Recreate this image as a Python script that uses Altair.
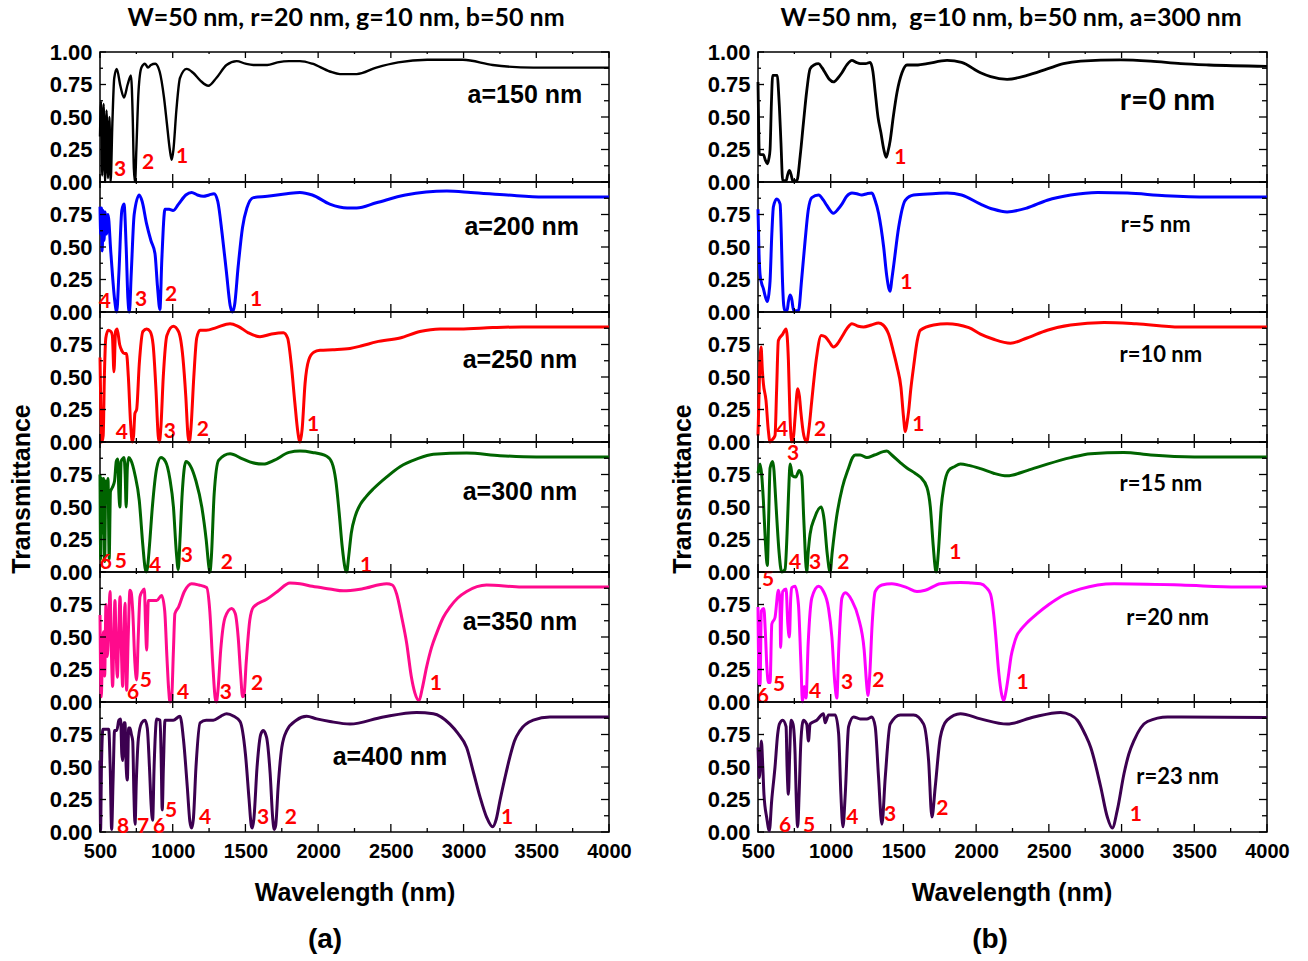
import altair as alt
import pandas as pd

# ---------------- data ----------------
# (a) W=50, r=20, g=10, b=50 ; varying a
a150_wl = [500, 507, 515, 525, 535, 545, 555, 565, 573, 585, 598, 615, 640, 665, 690, 713, 725, 733, 741, 750, 765, 785, 809, 830, 850, 880, 910, 940, 960, 980, 993, 1005, 1025, 1050, 1096, 1140, 1190, 1245, 1300, 1370, 1440, 1500, 1555, 1650, 1720, 1800, 1875, 1960, 2080, 2150, 2265, 2400, 2550, 2750, 2995, 3200, 3480, 3700, 4000]
a150_t = [0.35, 0.62, 0.05, 0.6, 0.0, 0.55, 0.03, 0.5, 0.0, 0.45, 0.8, 0.87, 0.74, 0.65, 0.75, 0.82, 0.5, 0.1, 0.0, 0.25, 0.7, 0.88, 0.91, 0.88, 0.9, 0.91, 0.85, 0.65, 0.45, 0.25, 0.17, 0.25, 0.55, 0.8, 0.87, 0.84, 0.78, 0.74, 0.8, 0.9, 0.93, 0.91, 0.9, 0.9, 0.92, 0.93, 0.93, 0.91, 0.85, 0.83, 0.83, 0.88, 0.92, 0.94, 0.94, 0.9, 0.88, 0.88, 0.88]

a200_wl = [500, 505, 510, 515, 522, 528, 535, 545, 555, 575, 600, 615, 630, 650, 665, 680, 692, 702, 715, 735, 770, 790, 820, 850, 878, 895, 912, 925, 947, 975, 1002, 1040, 1090, 1130, 1170, 1210, 1250, 1284, 1310, 1340, 1370, 1395, 1410, 1425, 1450, 1480, 1510, 1555, 1650, 1784, 1875, 1960, 2080, 2200, 2265, 2400, 2600, 2885, 3050, 3300, 3550, 4000]
a200_t = [0.81, 0.6, 0.8, 0.47, 0.78, 0.55, 0.77, 0.6, 0.75, 0.45, 0.1, 0.0, 0.3, 0.78, 0.83, 0.5, 0.1, 0.0, 0.3, 0.75, 0.9, 0.85, 0.68, 0.55, 0.45, 0.2, 0.02, 0.4, 0.79, 0.79, 0.78, 0.83, 0.9, 0.92, 0.9, 0.89, 0.9, 0.91, 0.85, 0.6, 0.3, 0.05, 0.0, 0.05, 0.35, 0.65, 0.8, 0.88, 0.89, 0.91, 0.92, 0.9, 0.83, 0.8, 0.8, 0.84, 0.9, 0.93, 0.92, 0.9, 0.885, 0.885]

a250_wl = [500, 505, 512, 522, 530, 540, 557, 575, 585, 596, 607, 618, 635, 651, 668, 682, 695, 710, 722, 731, 740, 752, 770, 795, 821, 845, 865, 885, 900, 908, 918, 935, 960, 1004, 1040, 1070, 1090, 1105, 1114, 1125, 1145, 1165, 1188, 1230, 1300, 1394, 1450, 1520, 1600, 1680, 1761, 1790, 1815, 1840, 1860, 1875, 1890, 1910, 1935, 1970, 2013, 2100, 2219, 2300, 2400, 2563, 2700, 2838, 2975, 3200, 3400, 4000]
a250_t = [0.65, 0.3, 0.0, 0.05, 0.5, 0.8, 0.86, 0.85, 0.82, 0.54, 0.85, 0.87, 0.75, 0.7, 0.68, 0.68, 0.5, 0.15, 0.0, 0.05, 0.22, 0.25, 0.6, 0.85, 0.87, 0.85, 0.75, 0.4, 0.05, 0.0, 0.1, 0.5, 0.82, 0.89, 0.85, 0.65, 0.35, 0.05, 0.0, 0.1, 0.5, 0.8, 0.86, 0.86, 0.88, 0.91, 0.89, 0.84, 0.81, 0.83, 0.84, 0.8, 0.6, 0.3, 0.08, 0.0, 0.1, 0.45, 0.63, 0.69, 0.705, 0.71, 0.72, 0.74, 0.77, 0.8, 0.85, 0.87, 0.87, 0.88, 0.885, 0.885]

a300_wl = [500, 505, 512, 518, 525, 532, 540, 548, 555, 563, 572, 585, 600, 612, 622, 630, 637, 645, 655, 665, 673, 680, 688, 697, 712, 740, 770, 795, 810, 818, 826, 840, 860, 890, 919, 950, 980, 1005, 1025, 1038, 1050, 1065, 1091, 1120, 1160, 1200, 1230, 1250, 1256, 1265, 1285, 1316, 1394, 1480, 1550, 1623, 1700, 1800, 1875, 1960, 2059, 2095, 2122, 2145, 2165, 2185, 2196, 2210, 2228, 2255, 2290, 2330, 2380, 2470, 2563, 2680, 2792, 3021, 3250, 3500, 4000]
a300_t = [0.75, 0.1, 0.72, 0.3, 0.72, 0.08, 0.7, 0.6, 0.72, 0.1, 0.62, 0.65, 0.7, 0.85, 0.87, 0.6, 0.5, 0.85, 0.87, 0.88, 0.75, 0.5, 0.8, 0.88, 0.86, 0.75, 0.55, 0.2, 0.03, 0.0, 0.03, 0.2, 0.5, 0.8, 0.88, 0.85, 0.72, 0.5, 0.15, 0.02, 0.25, 0.6, 0.85, 0.82, 0.7, 0.5, 0.25, 0.03, 0.0, 0.1, 0.6, 0.86, 0.91, 0.87, 0.84, 0.83, 0.86, 0.92, 0.93, 0.92, 0.89, 0.84, 0.7, 0.45, 0.2, 0.03, 0.0, 0.12, 0.3, 0.43, 0.52, 0.58, 0.64, 0.73, 0.81, 0.87, 0.905, 0.915, 0.895, 0.885, 0.885]

a350_wl = [500, 504, 509, 515, 523, 532, 541, 550, 560, 569, 578, 587, 595, 603, 611, 619, 628, 638, 647, 656, 664, 672, 678, 683, 694, 706, 715, 725, 740, 752, 763, 775, 790, 805, 813, 821, 827, 832, 860, 890, 924, 945, 960, 972, 981, 992, 1005, 1015, 1040, 1080, 1130, 1180, 1233, 1255, 1275, 1292, 1300, 1312, 1330, 1360, 1405, 1430, 1450, 1468, 1480, 1490, 1505, 1530, 1555, 1646, 1720, 1806, 1875, 1960, 2080, 2173, 2300, 2471, 2510, 2540, 2575, 2609, 2640, 2665, 2694, 2715, 2746, 2780, 2815, 2860, 2906, 2960, 3021, 3158, 3400, 4000]
a350_t = [0.67, 0.2, 0.04, 0.3, 0.54, 0.2, 0.75, 0.35, 0.6, 0.85, 0.4, 0.12, 0.5, 0.78, 0.4, 0.19, 0.5, 0.81, 0.4, 0.12, 0.5, 0.76, 0.4, 0.09, 0.5, 0.86, 0.84, 0.7, 0.3, 0.17, 0.5, 0.81, 0.85, 0.87, 0.6, 0.4, 0.6, 0.78, 0.78, 0.78, 0.82, 0.7, 0.35, 0.1, 0.0, 0.02, 0.4, 0.68, 0.73, 0.85, 0.91, 0.9, 0.88, 0.7, 0.3, 0.03, 0.0, 0.1, 0.4, 0.65, 0.72, 0.68, 0.5, 0.2, 0.04, 0.05, 0.3, 0.63, 0.73, 0.79, 0.85, 0.915, 0.91, 0.89, 0.87, 0.855, 0.87, 0.91, 0.9, 0.83, 0.65, 0.45, 0.2, 0.07, 0.01, 0.1, 0.27, 0.42, 0.53, 0.65, 0.73, 0.8, 0.85, 0.9, 0.885, 0.885]

a400_wl = [500, 504, 510, 520, 534, 560, 570, 580, 590, 600, 615, 630, 642, 650, 656, 664, 672, 680, 688, 697, 706, 716, 725, 733, 741, 750, 764, 787, 809, 825, 840, 852, 862, 872, 890, 913, 920, 928, 936, 947, 975, 1004, 1050, 1075, 1100, 1118, 1130, 1142, 1160, 1188, 1230, 1279, 1330, 1371, 1420, 1463, 1500, 1525, 1540, 1547, 1558, 1580, 1605, 1623, 1645, 1670, 1688, 1698, 1708, 1725, 1750, 1784, 1850, 1921, 1990, 2081, 2219, 2448, 2677, 2792, 2906, 2960, 3021, 3070, 3113, 3158, 3200, 3225, 3250, 3285, 3319, 3350, 3388, 3479, 3594, 3800, 4000]
a400_t = [0.55, 0.01, 0.5, 0.79, 0.79, 0.79, 0.5, 0.02, 0.4, 0.78, 0.78, 0.86, 0.87, 0.6, 0.55, 0.84, 0.84, 0.5, 0.4, 0.8, 0.8, 0.75, 0.7, 0.3, 0.06, 0.4, 0.72, 0.84, 0.86, 0.8, 0.5, 0.2, 0.09, 0.5, 0.87, 0.86, 0.6, 0.17, 0.5, 0.86, 0.86, 0.86, 0.89, 0.7, 0.35, 0.08, 0.03, 0.1, 0.5, 0.84, 0.86, 0.86, 0.89, 0.91, 0.89, 0.85, 0.6, 0.25, 0.05, 0.03, 0.1, 0.5, 0.75, 0.78, 0.73, 0.45, 0.1, 0.02, 0.05, 0.35, 0.65, 0.78, 0.86, 0.89, 0.87, 0.85, 0.83, 0.885, 0.92, 0.91, 0.83, 0.76, 0.65, 0.45, 0.27, 0.115, 0.04, 0.1, 0.24, 0.42, 0.58, 0.7, 0.78, 0.86, 0.885, 0.885, 0.885]

# (b) W=50, g=10, b=50, a=300 ; varying r
r0_wl = [500, 505, 509, 520, 537, 550, 564, 575, 583, 592, 601, 615, 633, 640, 647, 658, 670, 693, 705, 716, 727, 739, 767, 790, 812, 835, 858, 885, 916, 940, 962, 990, 1019, 1050, 1077, 1110, 1146, 1175, 1203, 1240, 1272, 1290, 1306, 1325, 1345, 1365, 1382, 1395, 1409, 1430, 1456, 1490, 1524, 1600, 1662, 1800, 1900, 2030, 2100, 2213, 2350, 2489, 2600, 2719, 2994, 3200, 3408, 3600, 4000]
r0_t = [0.77, 0.4, 0.22, 0.21, 0.21, 0.17, 0.14, 0.18, 0.25, 0.6, 0.82, 0.82, 0.82, 0.72, 0.58, 0.3, 0.01, 0.01, 0.06, 0.09, 0.06, 0.01, 0.01, 0.2, 0.45, 0.7, 0.87, 0.9, 0.91, 0.88, 0.84, 0.79, 0.77, 0.8, 0.84, 0.9, 0.935, 0.92, 0.91, 0.91, 0.92, 0.85, 0.69, 0.5, 0.38, 0.25, 0.19, 0.24, 0.32, 0.5, 0.69, 0.84, 0.9, 0.9, 0.91, 0.935, 0.92, 0.84, 0.81, 0.79, 0.82, 0.87, 0.91, 0.93, 0.94, 0.93, 0.91, 0.9, 0.89]

r5_wl = [500, 507, 514, 525, 537, 550, 564, 575, 583, 595, 606, 629, 652, 660, 667, 677, 686, 700, 709, 720, 732, 745, 760, 778, 800, 824, 845, 870, 916, 950, 973, 1019, 1050, 1077, 1110, 1146, 1180, 1214, 1250, 1283, 1305, 1329, 1364, 1385, 1400, 1409, 1420, 1432, 1467, 1513, 1570, 1700, 1800, 1900, 2030, 2120, 2213, 2350, 2489, 2650, 2834, 3040, 3300, 3600, 4000]
r5_t = [0.79, 0.45, 0.29, 0.22, 0.18, 0.12, 0.08, 0.14, 0.24, 0.6, 0.81, 0.87, 0.83, 0.6, 0.29, 0.05, 0.01, 0.01, 0.08, 0.13, 0.1, 0.01, 0.01, 0.01, 0.25, 0.55, 0.78, 0.88, 0.9, 0.86, 0.82, 0.76, 0.79, 0.83, 0.89, 0.915, 0.91, 0.9, 0.91, 0.915, 0.86, 0.76, 0.5, 0.28, 0.18, 0.16, 0.25, 0.35, 0.65, 0.86, 0.9, 0.91, 0.915, 0.9, 0.83, 0.79, 0.77, 0.8, 0.86, 0.9, 0.92, 0.915, 0.895, 0.885, 0.885]

r10_wl = [500, 510, 521, 530, 537, 555, 570, 583, 600, 617, 628, 640, 670, 693, 709, 720, 732, 745, 755, 773, 785, 794, 815, 835, 850, 870, 900, 935, 962, 990, 1019, 1050, 1077, 1110, 1146, 1190, 1226, 1280, 1329, 1360, 1398, 1430, 1456, 1483, 1500, 1513, 1525, 1536, 1550, 1570, 1595, 1616, 1708, 1800, 1950, 2030, 2120, 2236, 2350, 2489, 2650, 2880, 3100, 3400, 4000]
r10_t = [0.05, 0.5, 0.73, 0.55, 0.45, 0.32, 0.1, 0.0, 0.02, 0.05, 0.4, 0.78, 0.83, 0.87, 0.63, 0.2, 0.0, 0.05, 0.19, 0.41, 0.35, 0.24, 0.05, 0.0, 0.1, 0.32, 0.63, 0.82, 0.81, 0.77, 0.73, 0.76, 0.81, 0.87, 0.91, 0.89, 0.885, 0.9, 0.915, 0.9, 0.83, 0.7, 0.58, 0.42, 0.2, 0.08, 0.15, 0.24, 0.4, 0.58, 0.78, 0.86, 0.9, 0.91, 0.88, 0.83, 0.79, 0.76, 0.8, 0.86, 0.9, 0.92, 0.91, 0.885, 0.885]

r15_wl = [500, 514, 525, 537, 550, 564, 573, 583, 601, 610, 617, 630, 645, 663, 686, 700, 710, 721, 737, 760, 783, 801, 815, 835, 845, 858, 890, 935, 955, 975, 996, 1010, 1040, 1080, 1123, 1150, 1169, 1203, 1249, 1300, 1386, 1420, 1480, 1524, 1580, 1616, 1662, 1685, 1705, 1720, 1726, 1740, 1760, 1777, 1810, 1850, 1892, 1950, 2030, 2120, 2213, 2350, 2489, 2650, 2788, 3015, 3200, 3500, 4000]
r15_t = [0.76, 0.83, 0.75, 0.55, 0.25, 0.05, 0.4, 0.8, 0.85, 0.78, 0.65, 0.4, 0.15, 0.0, 0.02, 0.3, 0.6, 0.83, 0.74, 0.73, 0.78, 0.74, 0.4, 0.0, 0.15, 0.29, 0.42, 0.5, 0.4, 0.15, 0.0, 0.15, 0.42, 0.65, 0.8, 0.88, 0.9, 0.9, 0.88, 0.9, 0.93, 0.9, 0.84, 0.8, 0.76, 0.73, 0.65, 0.5, 0.2, 0.02, 0.0, 0.15, 0.5, 0.65, 0.78, 0.81, 0.83, 0.82, 0.795, 0.76, 0.74, 0.78, 0.83, 0.88, 0.91, 0.92, 0.9, 0.885, 0.885]

r20_wl = [500, 507, 514, 523, 540, 550, 562, 572, 583, 595, 617, 640, 650, 656, 663, 670, 693, 705, 716, 725, 732, 755, 778, 795, 806, 818, 830, 845, 870, 916, 950, 985, 1008, 1028, 1042, 1055, 1077, 1100, 1146, 1190, 1230, 1250, 1256, 1268, 1285, 1306, 1352, 1420, 1524, 1593, 1650, 1754, 1892, 1970, 2030, 2070, 2099, 2120, 2133, 2156, 2175, 2190, 2205, 2224, 2240, 2259, 2280, 2310, 2350, 2420, 2500, 2581, 2719, 2948, 3408, 3800, 4000]
r20_t = [0.73, 0.15, 0.13, 0.7, 0.72, 0.55, 0.25, 0.15, 0.15, 0.6, 0.65, 0.86, 0.8, 0.42, 0.7, 0.85, 0.87, 0.6, 0.5, 0.8, 0.88, 0.89, 0.75, 0.3, 0.0, 0.12, 0.03, 0.45, 0.8, 0.89, 0.85, 0.72, 0.5, 0.15, 0.03, 0.4, 0.8, 0.84, 0.78, 0.65, 0.4, 0.1, 0.05, 0.2, 0.6, 0.85, 0.9, 0.91, 0.88, 0.85, 0.86, 0.91, 0.92, 0.915, 0.91, 0.88, 0.83, 0.68, 0.53, 0.22, 0.06, 0.01, 0.08, 0.22, 0.35, 0.44, 0.51, 0.56, 0.61, 0.68, 0.75, 0.81, 0.87, 0.91, 0.9, 0.885, 0.885]

r23_wl = [500, 510, 523, 533, 541, 560, 578, 594, 617, 635, 647, 670, 693, 700, 709, 718, 727, 741, 755, 762, 773, 783, 795, 812, 835, 847, 858, 904, 950, 962, 985, 1031, 1054, 1070, 1084, 1100, 1123, 1157, 1203, 1249, 1283, 1306, 1329, 1352, 1375, 1409, 1479, 1570, 1639, 1673, 1696, 1719, 1754, 1800, 1892, 2030, 2213, 2397, 2581, 2650, 2696, 2750, 2788, 2856, 2902, 2936, 2971, 3017, 3050, 3086, 3178, 3316, 4000]
r23_t = [0.65, 0.42, 0.7, 0.5, 0.29, 0.11, 0.01, 0.24, 0.5, 0.75, 0.83, 0.86, 0.81, 0.5, 0.29, 0.6, 0.86, 0.83, 0.6, 0.3, 0.04, 0.3, 0.7, 0.86, 0.83, 0.7, 0.83, 0.86, 0.91, 0.84, 0.9, 0.9, 0.76, 0.29, 0.04, 0.29, 0.81, 0.885, 0.87, 0.87, 0.885, 0.81, 0.42, 0.06, 0.42, 0.83, 0.9, 0.9, 0.83, 0.55, 0.115, 0.35, 0.73, 0.86, 0.91, 0.87, 0.83, 0.885, 0.92, 0.9, 0.86, 0.75, 0.65, 0.35, 0.115, 0.03, 0.17, 0.45, 0.6, 0.705, 0.85, 0.885, 0.88]

# red mode numbers: text, wavelength, transmittance position
a150_n = (["3", "2", "1"], [638, 830, 1064], [0.09, 0.146, 0.19])
a200_n = (["4", "3", "2", "1"], [534, 782, 988, 1573], [0.075, 0.09, 0.13, 0.09])
a250_n = (["4", "3", "2", "1"], [651, 981, 1208, 1965], [0.07, 0.08, 0.09, 0.13])
a300_n = (["6", "5", "4", "3", "2", "1"], [541, 644, 878, 1098, 1373, 2329], [0.07, 0.075, 0.05, 0.12, 0.07, 0.05])
a350_n = (["6", "5", "4", "3", "2", "1"], [727, 816, 1071, 1366, 1580, 2810], [0.07, 0.16, 0.07, 0.07, 0.135, 0.135])
a400_n = (["8", "7", "6", "5", "4", "3", "2", "1"], [658, 796, 906, 988, 1222, 1621, 1813, 3299], [0.04, 0.04, 0.04, 0.16, 0.105, 0.105, 0.105, 0.105])
r0_n = (["1"], [1478], [0.185])
r5_n = (["1"], [1520], [0.22])
r10_n = (["4", "3", "2", "1"], [665, 741, 927, 1602], [0.09, -0.09, 0.09, 0.13])
r15_n = (["5", "4", "3", "2", "1"], [569, 755, 893, 1086, 1857], [-0.065, 0.07, 0.07, 0.07, 0.145])
r20_n = (["6", "5", "4", "3", "2", "1"], [534, 645, 893, 1113, 1327, 2319], [0.035, 0.13, 0.075, 0.145, 0.165, 0.15])
r23_n = (["6", "5", "4", "3", "2", "1"], [686, 851, 1148, 1409, 1768, 3098], [0.05, 0.05, 0.105, 0.13, 0.18, 0.13])

left_tags = ["a=150 nm", "a=200 nm", "a=250 nm", "a=300 nm", "a=350 nm", "a=400 nm"]
left_tag_wl = [3422, 3400, 3388, 3388, 3388, 2494]
left_tag_t = [0.67, 0.655, 0.63, 0.615, 0.615, 0.575]
right_tags = ["r=0 nm", "r=5 nm", "r=10 nm", "r=15 nm", "r=20 nm", "r=23 nm"]
right_tag_wl = [3316, 3235, 3270, 3270, 3316, 3385]
right_tag_t = [0.62, 0.667, 0.667, 0.68, 0.65, 0.42]

x_ticks = [500, 1000, 1500, 2000, 2500, 3000, 3500, 4000]
x_minor = [750, 1250, 1750, 2250, 2750, 3250, 3750]
y_ticks = [0.0, 0.25, 0.5, 0.75, 1.0]
y_minor = [0.125, 0.375, 0.625, 0.875]

left_title = "W=50 nm, r=20 nm, g=10 nm, b=50 nm"
right_title = "W=50 nm,\u00a0 g=10 nm, b=50 nm, a=300 nm"

# ---------------- drawing ----------------
W, H = 509, 130
XS = alt.Scale(domain=[500, 4000], nice=False, zero=False)
YS = alt.Scale(domain=[0, 1], nice=False, zero=False)
ARIAL = "Liberation Sans"
CAL = "Lato"


def const_text(txt, x, y, size, font, angle=0):
    kw = dict(fontSize=size, font=font, fontWeight="bold", color="black",
              align="center", baseline="middle")
    if angle:
        kw["angle"] = angle
    return alt.Chart(pd.DataFrame({"t": [txt]})).mark_text(**kw).encode(
        text="t:N", x=alt.value(x), y=alt.value(y))


def panel(wl, tr, color, lw, nums, tag, tag_wl, tag_t, tag_font, tag_size,
          top=False, bottom=False, extras=()):
    if bottom:
        xaxis = alt.Axis(values=x_ticks, title=None, ticks=False, domain=False, grid=False,
                         labelFont=ARIAL, labelFontWeight="bold", labelFontSize=20,
                         labelColor="black", labelPadding=9, labelFlush=False,
                         labelOverlap=False, format="d")
    else:
        xaxis = None
    yaxis = alt.Axis(values=y_ticks if top else y_ticks[:-1], format=".2f", title=None,
                     ticks=False, domain=False, grid=False, labelFont=ARIAL,
                     labelFontWeight="bold", labelFontSize=22, labelColor="black",
                     labelPadding=8, labelOverlap=False, labelFlush=False)
    X = lambda f: alt.X(f, scale=XS, axis=xaxis)
    Y = lambda f: alt.Y(f, scale=YS, axis=yaxis)

    line = alt.Chart(pd.DataFrame({"wl": wl, "T": tr})).mark_line(
        color=color, strokeWidth=lw, interpolate="monotone").encode(
        x=X("wl:Q"), y=Y("T:Q"))
    ndf = pd.DataFrame({"n": nums[0], "wl": nums[1], "T": nums[2]})
    num = alt.Chart(ndf).mark_text(color="#FF0000", font=CAL, fontWeight="bold", fontSize=21,
                                   align="center", baseline="middle").encode(
        x=X("wl:Q"), y=Y("T:Q"), text="n:N")
    tdf = pd.DataFrame({"s": [tag], "wl": [tag_wl], "T": [tag_t]})
    tg = alt.Chart(tdf).mark_text(color="black", font=tag_font, fontWeight="bold",
                                  fontSize=tag_size, align="center", baseline="middle").encode(
        x=X("wl:Q"), y=Y("T:Q"), text="s:N")

    rule = dict(color="black", strokeWidth=1.3)
    ticks = []
    for vals, ln in ((x_ticks, 8), (x_minor, 4)):
        df = pd.DataFrame({"wl": vals})
        ticks.append(alt.Chart(df).mark_rule(**rule).encode(
            x=X("wl:Q"), y=alt.value(H - ln), y2=alt.value(H)))
        ticks.append(alt.Chart(df).mark_rule(**rule).encode(
            x=X("wl:Q"), y=alt.value(0), y2=alt.value(ln - 2)))
    for vals, ln in ((y_ticks, 6), (y_minor, 3)):
        df = pd.DataFrame({"T": vals})
        ticks.append(alt.Chart(df).mark_rule(**rule).encode(
            y=Y("T:Q"), x=alt.value(0), x2=alt.value(ln)))
        ticks.append(alt.Chart(df).mark_rule(**rule).encode(
            y=Y("T:Q"), x=alt.value(W - ln - 2), x2=alt.value(W)))
    layers = [line, num, tg] + ticks + list(extras)
    return alt.layer(*layers).properties(width=W, height=H)


lcolors = ["#000000", "#0000FF", "#FF0000", "#006400", "#FF0A8C", "#3C0050"]
rcolors = ["#000000", "#0000FF", "#FF0000", "#006400", "#FF00FF", "#3C0050"]
lcurves = [(a150_wl, a150_t, a150_n), (a200_wl, a200_t, a200_n), (a250_wl, a250_t, a250_n),
           (a300_wl, a300_t, a300_n), (a350_wl, a350_t, a350_n), (a400_wl, a400_t, a400_n)]
rcurves = [(r0_wl, r0_t, r0_n), (r5_wl, r5_t, r5_n), (r10_wl, r10_t, r10_n),
           (r15_wl, r15_t, r15_n), (r20_wl, r20_t, r20_n), (r23_wl, r23_t, r23_n)]

left_panels = []
for i, (wl, tr, nums) in enumerate(lcurves):
    extras = []
    if i == 0:
        extras.append(const_text(left_title, 246, -34, 25, CAL))
    if i == 3:
        extras.append(const_text("Transmittance", -78, 47, 25, ARIAL, angle=270))
    if i == 5:
        extras.append(const_text("Wavelength (nm)", 255, 191, 25, ARIAL))
        extras.append(const_text("(a)", 225, 238, 28, ARIAL))
    left_panels.append(panel(wl, tr, lcolors[i], 2.4 if i == 0 else 3, nums,
                             left_tags[i], left_tag_wl[i], left_tag_t[i], ARIAL, 25,
                             top=(i == 0), bottom=(i == 5), extras=extras))

right_panels = []
for i, (wl, tr, nums) in enumerate(rcurves):
    extras = []
    if i == 0:
        extras.append(const_text(right_title, 253, -34, 25, CAL))
    if i == 3:
        extras.append(const_text("Transmittance", -75, 47, 25, ARIAL, angle=270))
    if i == 5:
        extras.append(const_text("Wavelength (nm)", 254, 191, 25, ARIAL))
        extras.append(const_text("(b)", 232, 238, 28, ARIAL))
    right_panels.append(panel(wl, tr, rcolors[i], 2.8 if i == 0 else 3, nums,
                              right_tags[i], right_tag_wl[i], right_tag_t[i], CAL,
                              30 if i == 0 else 22,
                              top=(i == 0), bottom=(i == 5), extras=extras))

left = alt.vconcat(*left_panels, spacing=0, bounds="flush")
right = alt.vconcat(*right_panels, spacing=0, bounds="flush")
# with flush bounds the nested column counts as zero width, so the spacing is
# the left column width plus the gap between the two columns
chart = alt.hconcat(left, right, spacing=W + 149, bounds="flush").properties(
    padding={"left": 9, "top": 5, "right": 5, "bottom": 5},
    background="white",
).configure_view(stroke="black", strokeWidth=1.5)

chart.save("out.html", embed_options={"renderer": "svg", "actions": False})
